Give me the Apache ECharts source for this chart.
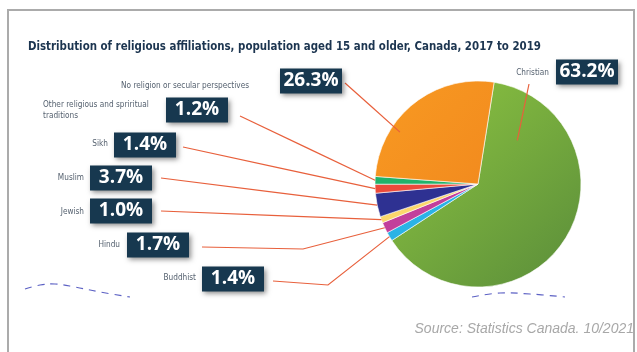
<!DOCTYPE html>
<html>
<head>
<meta charset="utf-8">
<script src="https://cdn.jsdelivr.net/npm/echarts@6/dist/echarts.min.js"></script>
<style>
  html, body { margin: 0; padding: 0; background: #fff; }
  #chart { width: 637px; height: 352px; }
</style>
</head>
<body>
<div id="chart"></div>
<script>
// data, clockwise from the top of the pie
const categories = [
  'Christian',
  'Buddhist',
  'Hindu',
  'Jewish',
  'Muslim',
  'Sikh',
  'Other religious and spriritual\ntraditions',
  'No religion or secular perspectives'
]
const shares = [63.2, 1.4, 1.7, 1.0, 3.7, 1.4, 1.2, 26.3]
const sliceColors = ['#7cb342', '#2bb3e6', '#c23f9b', '#fbd66c', '#2e3192', '#ec4a3b', '#21b26b', '#f7941e']

const titleText = 'Distribution of religious affiliations, population aged 15 and older, Canada, 2017 to 2019'
const sourceText = 'Source: Statistics Canada. 10/2021'

const condensed = "'DejaVu Sans Condensed', sans-serif"

// label placement (layout only)
const boxPos = [[556, 72], [202, 279], [127, 245], [90, 211], [90, 178], [114, 145], [166, 110], [280, 81]]
const namePos = [[549, 73, 'right'], [196, 278, 'right'], [120, 245, 'right'], [84, 212, 'right'],
  [84, 178, 'right'], [108, 144, 'right'], [43, 110, 'left'], [249, 86, 'right']]
const linePath = [[[529, 84]], [[328, 285], [273, 281]], [[303, 249], [202, 247]], [[161, 211]],
  [[161, 178]], [[183, 147]], [[240, 116]], [[345, 83]]]
// where the leader line touches the slice: fraction across the slice, fraction of radius
const anchorAt = [[0.145, 0.57], [0.5, 1], [0.5, 1], [0.5, 1], [0.5, 1], [0.5, 1], [0.5, 1], [0.31, 0.91]]

const chart = echarts.init(document.getElementById('chart'))

const sliceAnchor = (i, fallback) => {
  try {
    const lay = chart.getModel().getSeriesByIndex(0).getData().getItemLayout(i)
    const a = lay.startAngle + anchorAt[i][0] * (lay.endAngle - lay.startAngle)
    const r = lay.r * anchorAt[i][1]
    return [lay.cx + r * Math.cos(a), lay.cy + r * Math.sin(a)]
  } catch (e) {
    return fallback
  }
}

const pieData = categories.map((name, i) => {
  const item = { name, value: shares[i], itemStyle: { color: sliceColors[i] } }
  if (i === 0) {
    item.itemStyle.color = new echarts.graphic.LinearGradient(0, 0, 1, 1, [
      { offset: 0, color: '#8fc641' },
      { offset: 1, color: '#5a8d3a' }
    ])
  }
  if (i === 7) {
    item.itemStyle.color = new echarts.graphic.LinearGradient(0, 0, 1, 1, [
      { offset: 0, color: '#f89a22' },
      { offset: 1, color: '#f28a1e' }
    ])
  }
  return item
})

const pieBase = {
  type: 'pie',
  center: [478, 184],
  radius: 103,
  startAngle: 81,
  clockwise: true,
  avoidLabelOverlap: false,
  silent: true
}

const option = {
  animation: false,
  title: [
    {
      text: titleText,
      left: 28,
      top: 42,
      padding: 0,
      textStyle: { fontFamily: condensed, fontSize: 11.4, fontWeight: 'bold', color: '#1c3550' }
    },
    {
      text: sourceText,
      right: 3,
      top: 322,
      padding: 0,
      textStyle: { fontFamily: "'Liberation Sans', sans-serif", fontSize: 14, fontStyle: 'italic', fontWeight: 'normal', color: '#a8a8a8' }
    }
  ],
  graphic: [
    {
      type: 'rect',
      shape: { x: 8, y: 10, width: 626, height: 360 },
      style: { fill: 'none', stroke: '#ababab', lineWidth: 2 },
      silent: true
    },
    {
      type: 'polyline',
      shape: { points: [[25, 289], [40, 285], [55, 284], [75, 287], [100, 292], [130, 297]], smooth: 0.4 },
      style: { stroke: '#5c61c4', lineWidth: 1.2, lineDash: [7, 6], fill: 'none' },
      silent: true
    },
    {
      type: 'polyline',
      shape: { points: [[472, 297], [500, 293], [530, 294], [565, 297]], smooth: 0.4 },
      style: { stroke: '#5c61c4', lineWidth: 1.2, lineDash: [7, 6], fill: 'none' },
      silent: true
    }
  ],
  series: [
    {
      // visible slices + category names
      ...pieBase,
      z: 2,
      itemStyle: { borderColor: '#fff', borderWidth: 0.6 },
      data: pieData,
      label: {
        show: true,
        position: 'outside',
        formatter: '{b}',
        fontFamily: condensed,
        fontSize: 8.2,
        lineHeight: 11,
        color: '#55616f'
      },
      labelLine: { show: false },
      labelLayout: (params) => {
        const p = namePos[params.dataIndex]
        return { x: p[0], y: p[1], align: p[2], verticalAlign: 'middle' }
      }
    },
    {
      // same slices drawn invisibly on top, carrying the value boxes and leader lines
      ...pieBase,
      z: 3,
      itemStyle: { color: 'rgba(0,0,0,0)', borderWidth: 0 },
      data: categories.map((name, i) => ({ name, value: shares[i] })),
      label: {
        show: true,
        position: 'outside',
        formatter: (p) => '{v|' + p.value.toFixed(1) + '%}',
        backgroundColor: '#17384f',
        padding: [2, 5],
        shadowColor: 'rgba(0,0,0,0.45)',
        shadowBlur: 5,
        shadowOffsetX: 2,
        shadowOffsetY: 2,
        rich: {
          v: {
            width: 52,
            align: 'center',
            fontFamily: "'Open Sans', sans-serif",
            fontSize: 19,
            fontWeight: 'bold',
            lineHeight: 21,
            color: '#fff'
          }
        }
      },
      labelLine: {
        show: true,
        lineStyle: { color: '#e8603c', width: 1.2 }
      },
      labelLayout: (params) => {
        const i = params.dataIndex
        const def = params.labelLinePoints ? params.labelLinePoints[0] : [478, 184]
        const start = sliceAnchor(i, def)
        const path = linePath[i]
        let pts
        if (path.length === 1) {
          const end = path[0]
          pts = [start, [(start[0] + end[0]) / 2, (start[1] + end[1]) / 2], end]
        } else {
          pts = [start, path[0], path[1]]
        }
        return {
          x: boxPos[i][0],
          y: boxPos[i][1],
          align: 'left',
          verticalAlign: 'middle',
          labelLinePoints: pts
        }
      }
    }
  ]
}

chart.setOption(option)
</script>
</body>
</html>
